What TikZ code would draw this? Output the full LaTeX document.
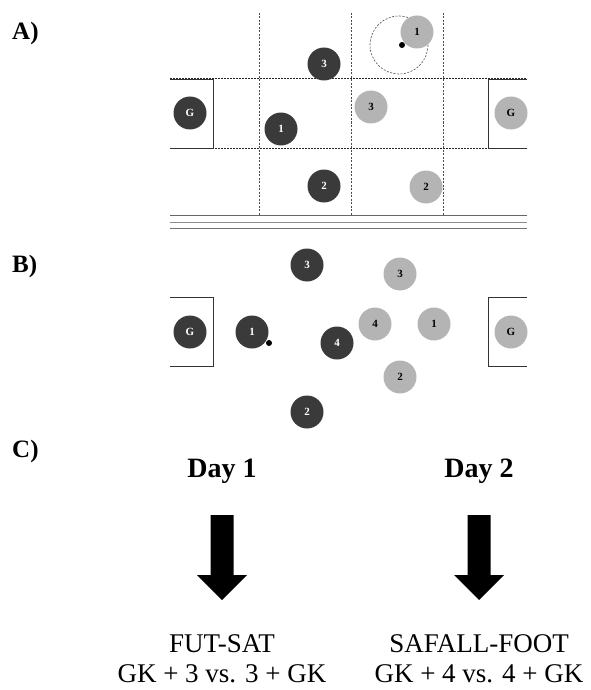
\documentclass[tikz,border=0pt]{standalone}
\usepackage{fontspec}
\setmainfont{Liberation Serif}
\definecolor{teamdark}{HTML}{3A3A3A}
\definecolor{teamlight}{HTML}{B4B4B4}
\tikzset{
  darkp/.style={circle,fill=teamdark,text=white,minimum size=33pt,inner sep=0pt,font=\bfseries\fontsize{11}{13}\selectfont},
  lightp/.style={circle,fill=teamlight,text=black,minimum size=33pt,inner sep=0pt,font=\bfseries\fontsize{11}{13}\selectfont},
  grid/.style={draw=black!70,line width=0.6pt,dash pattern=on 2pt off 1.5pt},
  zone/.style={draw=black!85,line width=1pt,dash pattern=on 2pt off 1pt},
  goalbox/.style={draw=black!80,line width=0.8pt},
  panel/.style={font=\bfseries\fontsize{25}{29}\selectfont,anchor=west,inner sep=0pt},
  daytext/.style={font=\bfseries\fontsize{28}{32}\selectfont,inner sep=0pt},
  gametext/.style={font=\fontsize{27}{31}\selectfont,inner sep=0pt,anchor=base}
}
% thick down arrow hanging from a given point
\newcommand{\downarrowat}[1]{%
  \fill (#1) ++(-11.5,0) -- ++(23,0) -- ++(0,60) -- ++(13.5,0)
        -- ++(-25,25) -- ++(-25,-25) -- ++(13.5,0) -- cycle;}
\begin{document}
\begin{tikzpicture}[x=1pt,y=-1pt]
\useasboundingbox (0,0) rectangle (590,690);

% panel labels
\node[panel] (lA) at (12,33) {A)};
\node[panel] (lB) at (12,266) {B)};
\node[panel] (lC) at (12,451) {C)};

% ---------- A) field with zones ----------
\foreach \x in {259,351,443} \draw[grid] (\x,13) -- (\x,215);
\draw[zone] (170,79) -- (527,79);
\draw[zone] (170,148) -- (527,148);
\draw[goalbox] (170,79) -- (213,79) -- (213,148) -- (170,148);
\draw[goalbox] (527,79) -- (488,79) -- (488,148) -- (527,148);
\foreach \y/\c in {215/black!60,222/black!45,228/black!55} \draw[\c,line width=0.8pt] (170,\y) -- (527,\y);

\draw[grid,line width=0.6pt] (399,45) circle (29);
\node[darkp] (aG) at (190,113) {G};
\node[darkp] (a1) at (281,129) {1};
\node[darkp] (a3) at (324,64) {3};
\node[darkp] (a2) at (324,186) {2};
\node[lightp] (bG) at (511,113) {G};
\node[lightp] (b3) at (371,107) {3};
\node[lightp] (b2) at (426,187) {2};
\node[lightp] (b1) at (417,32) {1};
\fill (402,45) circle (3);

% ---------- B) field ----------
\draw[goalbox] (170,297) -- (213,297) -- (213,366) -- (170,366);
\draw[goalbox] (527,297) -- (488,297) -- (488,366) -- (527,366);
\node[darkp] (cG) at (190,332) {G};
\node[darkp] (c1) at (252,332) {1};
\node[darkp] (c3) at (307,265) {3};
\node[darkp] (c4) at (337,343) {4};
\node[darkp] (c2) at (307,412) {2};
\node[lightp] (dG) at (511,332) {G};
\node[lightp] (d3) at (400,274) {3};
\node[lightp] (d4) at (375,324) {4};
\node[lightp] (d1) at (434,324) {1};
\node[lightp] (d2) at (400,377) {2};
\fill (269,343) circle (3);

% ---------- C) schedule ----------
\node[daytext] (day1) at (222,471) {Day 1};
\node[daytext] (day2) at (479,471) {Day 2};
\coordinate (ar1) at (222,515);
\coordinate (ar2) at (479,515);
\downarrowat{ar1}
\downarrowat{ar2}
\node[gametext] (g1a) at (222,652) {FUT-SAT};
\node[gametext] (g1b) at (222,682) {GK + 3 vs. 3 + GK};
\node[gametext] (g2a) at (479,652) {SAFALL-FOOT};
\node[gametext] (g2b) at (479,682) {GK + 4 vs. 4 + GK};
\end{tikzpicture}
\end{document}
